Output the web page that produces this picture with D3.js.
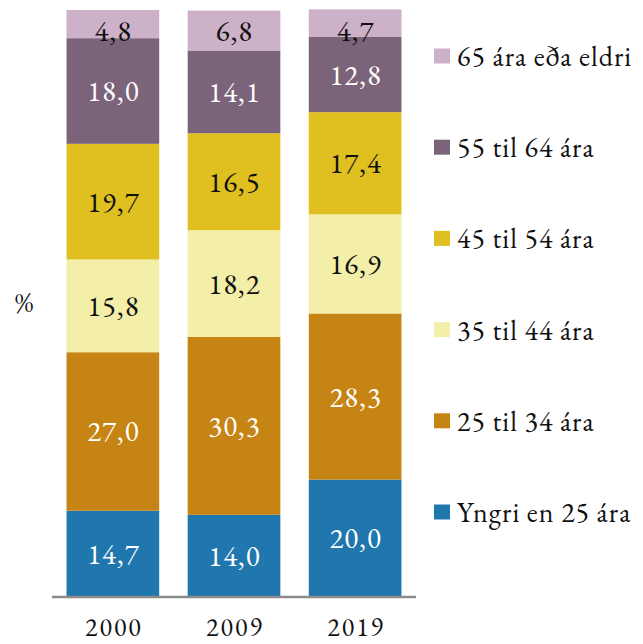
<!DOCTYPE html>
<html><head><meta charset="utf-8">
<script src="https://cdn.jsdelivr.net/npm/d3@7"></script>
<style>body{margin:0;background:#fff}svg{display:block}</style>
</head><body>
<svg id="c" width="643" height="644"></svg>
<script>
const years = ["2000","2009","2019"];
const seriesNames = ["Yngri en 25 ára","25 til 34 ára","35 til 44 ára","45 til 54 ára","55 til 64 ára","65 ára eða eldri"];
const colors = ["#1f77ae","#c58414","#f3eea8","#dfc020","#7b6479","#cdb1c8"];
const labelColors = ["#fff","#fff","#111","#111","#fff","#111"];
const v2000 = [14.7,27.0,15.8,19.7,18.0,4.8];
const v2009 = [14.0,30.3,18.2,16.5,14.1,6.8];
const v2019 = [20.0,28.3,16.9,17.4,12.8,4.7];
const values = [v2000,v2009,v2019];

const FONT = "'EB Garamond','Liberation Serif',serif";
const svg = d3.select("#c").attr("font-family",FONT).style("font-variant-numeric","lining-nums");
const x = d3.scaleBand().domain(years).range([52,416]).paddingInner(0.235).paddingOuter(0.12);
const y = d3.scaleLinear().domain([0,100]).range([597,10]);

const rows = years.map((yr,i)=>{const o={year:yr}; seriesNames.forEach((s,j)=>o[s]=values[i][j]); return o;});
const stacked = d3.stack().keys(seriesNames)(rows);

const g = svg.append("g");
stacked.forEach((layer,j)=>{
  g.selectAll(null).data(layer).enter().append("rect")
    .attr("x",d=>x(d.data.year)).attr("width",x.bandwidth())
    .attr("y",d=>y(d[1])).attr("height",d=>y(d[0])-y(d[1]))
    .attr("fill",colors[j]);
  g.selectAll(null).data(layer).enter().append("text")
    .attr("x",d=>x(d.data.year)+x.bandwidth()/2+0.5)
    .attr("y",d=>Math.max((y(d[0])+y(d[1]))/2, y(100)+21))
    .attr("text-anchor","middle").attr("dominant-baseline","central")
    .attr("font-family",FONT).attr("font-size",29).attr("letter-spacing",1).attr("fill",labelColors[j])
    .text(d=>(d[1]-d[0]).toFixed(1).replace(".",","));
});

const ax = svg.append("g").attr("transform","translate(0,597)")
  .call(d3.axisBottom(x).tickSize(0).tickPadding(21));
ax.attr("font-family",FONT);
ax.select(".domain").attr("stroke","#8c8c8c").attr("stroke-width",2.5).attr("d","M52,0H416");
ax.selectAll("text").attr("font-size",26).attr("letter-spacing",2).attr("dx",1).attr("fill","#111").attr("font-family",FONT);

svg.append("text").attr("x",24).attr("y",302).attr("text-anchor","middle").attr("dominant-baseline","central")
  .attr("font-family",FONT).attr("font-size",28).attr("fill","#111").text("%");

const ly = d3.scaleLinear().domain([0,5]).range([56,512]);
const legendOrder = seriesNames.map((s,j)=>j).reverse();
legendOrder.forEach((j,k)=>{
  svg.append("rect").attr("x",434).attr("y",ly(k)-7.5).attr("width",16).attr("height",15).attr("fill",colors[j]);
  svg.append("text").attr("x",457).attr("y",ly(k)).attr("dominant-baseline","central")
    .attr("font-family",FONT).attr("font-size",28).attr("letter-spacing",1).attr("fill","#111").text(seriesNames[j]);
});
</script>
</body></html>
